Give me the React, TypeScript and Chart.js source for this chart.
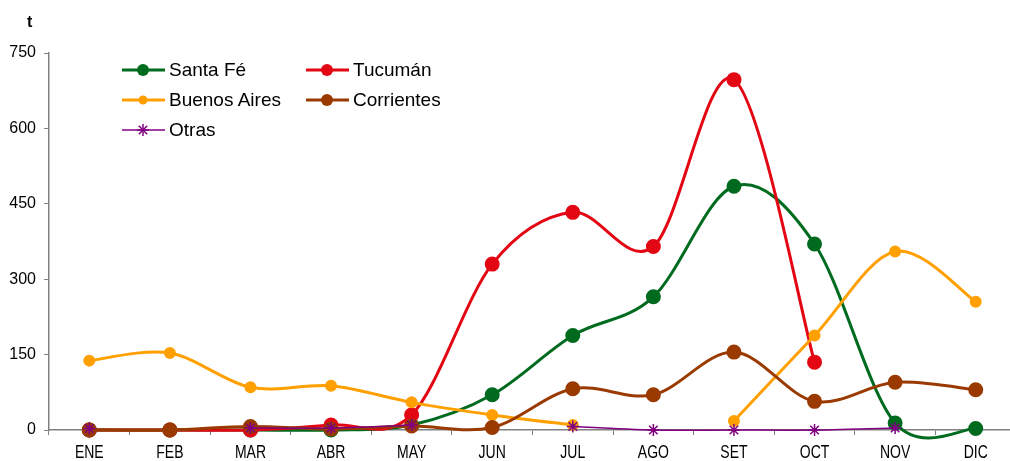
import React, { useEffect, useRef } from "react";
import { Chart, registerables } from "chart.js";

Chart.register(...registerables);

const months = ["ENE", "FEB", "MAR", "ABR", "MAY", "JUN", "JUL", "AGO", "SET", "OCT", "NOV", "DIC"];
const santaFe = [0, 0, 0, 0, 10, 70, 188, 265, 485, 370, 14, 3];
const tucuman = [0, 0, 0, 10, 30, 330, 433, 365, 697, 135, null, null];
const buenosAires = [138, 153, 85, 88, 55, 30, 10, null, 18, 188, 355, 255];
const corrientes = [0, 0, 7, 2, 8, 5, 82, 70, 155, 57, 95, 80];
const otras = [3, null, 4, 4, 10, null, 7, 0, 0, 0, 4, null];
const yTicks = [0, 150, 300, 450, 600, 750];

const GREEN = "#006B1E";
const RED = "#E30613";
const ORANGE = "#FFA000";
const BROWN = "#9A3A00";
const PURPLE = "#800080";

const legendItems = [
  { label: "Santa Fé", color: GREEN, marker: "circle", r: 6, x: 122, y: 70, lw: 3 },
  { label: "Tucumán", color: RED, marker: "circle", r: 6, x: 306, y: 70, lw: 3 },
  { label: "Buenos Aires", color: ORANGE, marker: "circle", r: 4.5, x: 122, y: 100, lw: 3 },
  { label: "Corrientes", color: BROWN, marker: "circle", r: 6, x: 306, y: 100, lw: 3 },
  { label: "Otras", color: PURPLE, marker: "star", r: 6, x: 122, y: 130, lw: 1.5 },
];

// Excel-like smoothing: control points at +/- (next - prev) / 6 within each unbroken run
const excelSmooth = {
  id: "excelSmooth",
  beforeDatasetsDraw(chart: any) {
    chart.data.datasets.forEach((_: any, di: number) => {
      const meta = chart.getDatasetMeta(di);
      const line = meta.dataset;
      if (!line) return;
      if (typeof line.updateControlPoints === "function") {
        line.updateControlPoints(chart.chartArea, meta.iScale ? meta.iScale.axis : "x");
      }
      const pts = meta.data;
      const n = pts.length;
      const valid = (i: number) => i >= 0 && i < n && !pts[i].skip;
      for (let i = 0; i < n; i++) {
        if (!valid(i)) continue;
        const p = pts[i];
        const prev = valid(i - 1) ? pts[i - 1] : p;
        const next = valid(i + 1) ? pts[i + 1] : p;
        const dx = (next.x - prev.x) / 6;
        const dy = (next.y - prev.y) / 6;
        p.cp1x = p.x - dx;
        p.cp1y = p.y - dy;
        p.cp2x = p.x + dx;
        p.cp2y = p.y + dy;
      }
      line._pointsUpdated = true;
      line._path = undefined;
    });
  },
};

// x labels drawn slightly stretched vertically, as in the original
const xLabels = {
  id: "xLabels",
  afterDraw(chart: any) {
    const xs = chart.scales.x;
    const ctx = chart.ctx;
    ctx.save();
    ctx.fillStyle = "#000";
    ctx.font = "14px 'Liberation Sans', Arial, sans-serif";
    ctx.textAlign = "center";
    ctx.textBaseline = "middle";
    months.forEach((m, i) => {
      const x = xs.getPixelForValue(i);
      ctx.save();
      ctx.translate(x, 453);
      ctx.scale(1, 1.25);
      ctx.fillText(m, 0, 0);
      ctx.restore();
    });
    ctx.restore();
  },
};

export default function App() {
  const ref = useRef<HTMLCanvasElement | null>(null);

  useEffect(() => {
    document.body.style.margin = "0";
    document.body.style.overflow = "hidden";
    document.documentElement.style.overflow = "hidden";
    const canvas = ref.current;
    if (!canvas) return;
    const ds = (label: string, data: (number | null)[], color: string, opts: any = {}) => ({
      label,
      data,
      borderColor: color,
      backgroundColor: color,
      pointBackgroundColor: color,
      pointBorderColor: color,
      borderWidth: 3,
      pointRadius: 6,
      pointHoverRadius: 6,
      tension: 0.35,
      capBezierPoints: false,
      spanGaps: false,
      clip: 14,
      ...opts,
    });
    const chart = new Chart(canvas, {
      type: "line",
      data: {
        labels: months,
        datasets: [
          ds("Otras", otras, PURPLE, { borderWidth: 1.5, pointStyle: "star", pointRadius: 6, pointBorderWidth: 1.5 }),
          ds("Corrientes", corrientes, BROWN),
          ds("Buenos Aires", buenosAires, ORANGE, { pointRadius: 4.5 }),
          ds("Tucumán", tucuman, RED),
          ds("Santa Fé", santaFe, GREEN),
        ],
      },
      plugins: [excelSmooth, xLabels],
      options: {
        responsive: false,
        animation: false,
        devicePixelRatio: 1,
        layout: { padding: { top: 53, left: 0, right: 0, bottom: 0 } },
        plugins: { legend: { display: false }, tooltip: { enabled: false } },
        scales: {
          x: {
            offset: true,
            grid: {
              offset: true,
              drawOnChartArea: false,
              drawTicks: true,
              tickLength: 5,
              color: "#808080",
            },
            border: { color: "#808080", width: 1.5 },
            ticks: {
              display: false,
              maxRotation: 0,
            },
            afterFit: (s: any) => {
              s.height = 31;
            },
          },
          y: {
            min: 0,
            max: 750,
            afterBuildTicks: (s: any) => {
              s.ticks = yTicks.map((v) => ({ value: v }));
            },
            grid: {
              drawOnChartArea: false,
              drawTicks: true,
              tickLength: 5,
              color: "#808080",
            },
            border: { color: "#808080", width: 1.5 },
            ticks: {
              color: "#000",
              font: { family: "'Liberation Sans', Arial, sans-serif", size: 16 },
              padding: 8,
            },
            afterFit: (s: any) => {
              s.width = 49;
            },
          },
        },
      },
    });
    return () => chart.destroy();
  }, []);

  return (
    <div style={{ position: "relative", width: 1010, height: 461, overflow: "hidden", background: "#fff" }}>
      <canvas ref={ref} width={1025} height={461} style={{ position: "absolute", left: 0, top: 0, width: 1025, height: 461 }} />
      <div
        style={{
          position: "absolute",
          left: 27,
          top: 13,
          fontFamily: "'Liberation Sans', Arial, sans-serif",
          fontWeight: "bold",
          fontSize: 16,
        }}
      >
        t
      </div>
      {legendItems.map((it) => (
        <div key={it.label} style={{ position: "absolute", left: it.x, top: it.y - 12, height: 24, display: "flex", alignItems: "center" }}>
          <svg width={44} height={24} style={{ display: "block" }}>
            <line x1={0} y1={12} x2={43} y2={12} stroke={it.color} strokeWidth={it.lw} />
            {it.marker === "circle" ? (
              <circle cx={21} cy={12} r={it.r} fill={it.color} />
            ) : (
              <g stroke={it.color} strokeWidth={1.5}>
                <line x1={21} y1={6} x2={21} y2={18} />
                <line x1={15} y1={12} x2={27} y2={12} />
                <line x1={16.8} y1={7.8} x2={25.2} y2={16.2} />
                <line x1={16.8} y1={16.2} x2={25.2} y2={7.8} />
              </g>
            )}
          </svg>
          <span
            style={{
              marginLeft: 3,
              fontFamily: "'Liberation Sans', Arial, sans-serif",
              fontSize: 19,
              color: "#000",
              whiteSpace: "nowrap",
            }}
          >
            {it.label}
          </span>
        </div>
      ))}
    </div>
  );
}
